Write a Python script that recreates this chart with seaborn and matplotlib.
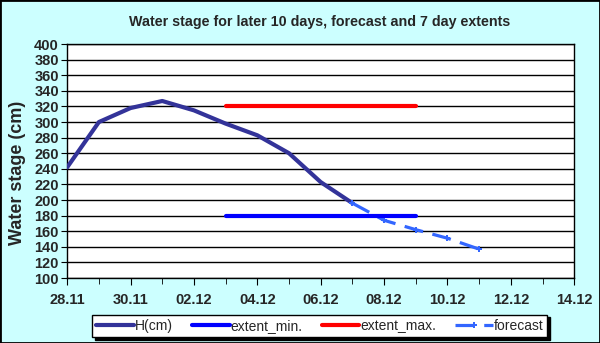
import pandas as pd
import matplotlib
matplotlib.use("Agg")
import matplotlib.pyplot as plt
import matplotlib.dates as mdates
import seaborn as sns

# Values (cm)
h_dates = ["2009-11-28", "2009-11-29", "2009-11-30", "2009-12-01", "2009-12-02",
           "2009-12-03", "2009-12-04", "2009-12-05", "2009-12-06", "2009-12-07"]
h_values = [242, 300, 318, 327, 315, 298, 283, 260, 223, 196]

forecast_dates = ["2009-12-07", "2009-12-08", "2009-12-09", "2009-12-10", "2009-12-11"]
forecast_values = [196, 174, 162, 151, 137]

extent_dates = ["2009-12-03", "2009-12-09"]
extent_min = [180, 180]
extent_max = [320, 320]

sns.set_style("white")
plt.rcParams['font.family'] = ['Liberation Sans', 'DejaVu Sans']

h_df = pd.DataFrame({"date": pd.to_datetime(h_dates), "value": h_values})
fc_df = pd.DataFrame({"date": pd.to_datetime(forecast_dates), "value": forecast_values})
ext_df = pd.DataFrame({"date": pd.to_datetime(extent_dates), "min": extent_min, "max": extent_max})

fig = plt.figure(figsize=(6, 3.43), dpi=100, facecolor="#CCFFFF")
ax = fig.add_axes([0.112, 0.1895, 0.845, 0.682])
ax.set_facecolor("white")

sns.lineplot(data=h_df, x="date", y="value", ax=ax, color="#333399", lw=3,
             label="H(cm)", zorder=3)
sns.lineplot(data=ext_df, x="date", y="min", ax=ax, color="#0000FF", lw=3,
             label="extent_min.", zorder=5)
sns.lineplot(data=ext_df, x="date", y="max", ax=ax, color="#FF0000", lw=3,
             label="extent_max.", zorder=5)
sns.lineplot(data=fc_df, x="date", y="value", ax=ax, color="#3366FF", lw=2.3,
             dashes=False, label="forecast", zorder=4, marker="P", markersize=5,
             markeredgewidth=0)
for line in ax.lines:
    line.set_solid_capstyle("round")
    line.set_solid_joinstyle("round")
ax.lines[-1].set_linestyle((0, (6, 3)))

ax.set_ylim(100, 400)
ax.set_yticks(range(100, 401, 20))
ax.set_xlim(pd.Timestamp("2009-11-28"), pd.Timestamp("2009-12-14"))
ax.xaxis.set_major_locator(mdates.DayLocator(interval=2))
ax.xaxis.set_major_formatter(mdates.DateFormatter("%d.%m"))
ax.xaxis.set_minor_locator(mdates.DayLocator())
ax.grid(axis="y", color="black", lw=1)
ax.grid(axis="x", visible=False)
for s in ax.spines.values():
    s.set_color("black")
    s.set_linewidth(1)

ax.tick_params(axis="both", which="both", direction="out", color="black",
               bottom=True, left=True, labelsize=10.5)
ax.tick_params(axis="x", which="major", length=5, pad=6)
ax.tick_params(axis="x", which="minor", length=4)
ax.tick_params(axis="y", length=4, pad=2)
for lab in ax.get_xticklabels() + ax.get_yticklabels():
    lab.set_fontweight("bold")
ax.set_xlabel("")
ax.set_ylabel("")

fig.text(320 / 600, 1 - 22 / 343, "Water stage for later 10 days, forecast and 7 day extents",
         ha="center", va="center", fontsize=10.3, fontweight="bold")
fig.text(18 / 600, 1 - 173 / 343, "Water stage (cm)", rotation=90,
         ha="center", va="center", fontsize=13, fontweight="bold")

handles, labels = ax.get_legend_handles_labels()
ax.get_legend().remove()
leg = fig.legend(handles, labels, loc="center", bbox_to_anchor=(0.533, 0.05), ncol=4,
                 fontsize=10, frameon=True, fancybox=False, edgecolor="black", framealpha=1,
                 shadow={"color": "black", "alpha": 1}, handlelength=2.7, columnspacing=1.4,
                 handletextpad=0.05, borderpad=0.3)
leg.get_frame().set_linewidth(1)

fig.patches.append(plt.Rectangle((0, 0), 1, 1, transform=fig.transFigure, fill=False,
                                 edgecolor="black", lw=2))

fig.savefig("out.png", dpi=100, facecolor=fig.get_facecolor())
